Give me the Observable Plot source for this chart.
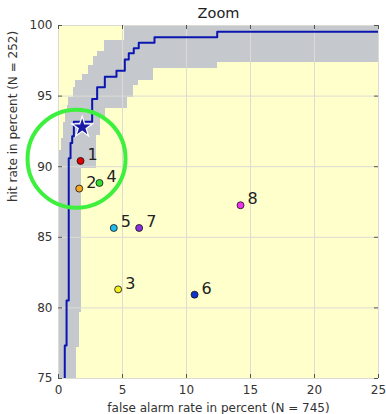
<!DOCTYPE html>
<html><head><meta charset="utf-8">
<script src="https://cdn.jsdelivr.net/npm/d3@7"></script>
<script src="https://cdn.jsdelivr.net/npm/@observablehq/plot@0.6"></script>
<style>
body{margin:0;background:#fff;}
g[aria-label="ring"] circle{filter:drop-shadow(-4px 5px 4px rgba(0,0,0,0.35));}
</style></head><body><div id="chart"></div>
<script>
// ROC step curve (false alarm %, hit %)
const rocFA = [0.49, 0.63, 0.80, 0.94, 1.07, 1.20, 2.63, 3.02, 3.62, 4.53, 5.18, 5.49, 5.88, 6.27, 7.50, 12.40, 25];
const rocHR = [74, 77.34, 80.53, 90.60, 91.67, 92.16, 93.18, 94.79, 95.62, 96.37, 96.79, 97.60, 98.03, 98.38, 98.78, 99.16, 99.56];

// confidence band strips
const bandTop    = [100, 98.97, 98.14, 97.77, 97.36, 97.20, 96.96, 96.56, 96.13, 95.78, 95.64, 94.93, 94.36, 94.15, 93.87, 93.44, 93.16, 92.23, 92.02, 91.17, 89.89, 79.68, 77.20];
const bandBottom = [98.97, 98.14, 97.77, 97.36, 97.20, 96.96, 96.56, 96.13, 95.78, 95.64, 94.93, 94.36, 94.15, 93.87, 93.44, 93.16, 92.23, 92.02, 91.17, 89.89, 79.68, 77.20, 74];
const bandLeft   = [5.16, 3.59, 3.02, 2.71, 2.71, 2.34, 2.34, 1.85, 1.33, 1.33, 1.15, 0.80, 0.68, 0.68, 0.55, 0.55, 0.41, 0.41, 0.23, 0.10, 0.10, 0.10, 0.10];
const bandRight  = [25, 25, 25, 25, 12.40, 12.40, 7.42, 7.42, 6.27, 5.88, 5.88, 5.39, 5.39, 3.67, 3.67, 3.28, 3.28, 2.97, 2.97, 2.97, 1.76, 1.64, 1.41];

// numbered points
const pointLabels = ["1", "2", "3", "4", "5", "6", "7", "8"];
const pointFA = [1.72, 1.62, 4.66, 3.20, 4.32, 10.63, 6.30, 14.22];
const pointHR = [90.41, 88.45, 81.31, 88.85, 85.66, 80.94, 85.66, 87.27];
const pointColors = ["#e00000", "#f5a623", "#f2ee22", "#33dd33", "#22bbee", "#1133cc", "#8833dd", "#ee33ee"];

// star (operating point) and highlight ring
const starFA = [1.85], starHR = [92.80];
const ringFA = [1.41], ringHR = [90.57];

const xTicks = [0, 5, 10, 15, 20, 25];
const yTicks = [75, 80, 85, 90, 95, 100];

const roc = rocFA.map((x, i) => ({x, y: rocHR[i]}));
const band = bandTop.map((t, i) => ({x1: bandLeft[i], x2: bandRight[i], y1: bandBottom[i], y2: t}));
const pts = pointLabels.map((l, i) => ({label: l, x: pointFA[i], y: pointHR[i], c: pointColors[i]}));
const star = starFA.map((x, i) => ({x, y: starHR[i]}));
const ring = ringFA.map((x, i) => ({x, y: ringHR[i]}));

const chart = Plot.plot({
  width: 386, height: 414,
  marginLeft: 58, marginRight: 8, marginTop: 25, marginBottom: 36,
  style: {fontFamily: "DejaVu Sans", fontSize: "12px", color: "#333", background: "white", overflow: "visible"},
  x: {domain: [0, 25], ticks: xTicks, label: null},
  y: {domain: [75, 100], ticks: yTicks, label: null},
  marks: [
    Plot.frame({fill: "#ffffcc", stroke: null}),
    Plot.rect(band, {x1: "x1", x2: "x2", y1: "y1", y2: "y2", fill: "#c5c8cd", clip: true, shapeRendering: "crispEdges"}),
    Plot.gridX(xTicks, {stroke: "#dcdcd4", strokeOpacity: 1}),
    Plot.gridY(yTicks, {stroke: "#dcdcd4", strokeOpacity: 1}),
    Plot.tickX(xTicks, {x: d => d, insetTop: 349, stroke: "#555"}),
    Plot.tickX(xTicks, {x: d => d, insetBottom: 349, stroke: "#555"}),
    Plot.tickY(yTicks, {y: d => d, insetRight: 316, stroke: "#555"}),
    Plot.tickY(yTicks, {y: d => d, insetLeft: 316, stroke: "#555"}),
    Plot.axisX(xTicks, {tickSize: 0, tickPadding: 7, fontSize: 12, label: null}),
    Plot.axisY(yTicks, {tickSize: 0, tickPadding: 6, fontSize: 12, label: null}),
    Plot.line(roc, {x: "x", y: "y", curve: "step-before", stroke: "#0b16b0", strokeWidth: 2, clip: true}),
    Plot.dot(star, {x: "x", y: "y", symbol: "star", r: 6.5, fill: "#1a1aa8", stroke: "white", strokeWidth: 1.2}),
    Plot.dot(pts, {x: "x", y: "y", r: 3.5, fill: "c", stroke: "#111", strokeWidth: 0.8}),
    Plot.text(pts, {x: "x", y: "y", text: "label", dx: 7, dy: -6, textAnchor: "start", fontSize: 16, fill: "#222"}),
    Plot.dot(ring, {x: "x", y: "y", r: 49, stroke: "#3ef03e", strokeWidth: 4, fill: "none", ariaLabel: "ring"}),
    Plot.text(["Zoom"], {frameAnchor: "top", dy: -12, fontSize: 14.5, fill: "#222", lineAnchor: "middle"}),
    Plot.text(["false alarm rate in percent (N = 745)"], {frameAnchor: "bottom", dy: 30, fontSize: 12, fill: "#333", lineAnchor: "middle"}),
    Plot.text(["hit rate in percent (N = 252)"], {frameAnchor: "left", dx: -45, rotate: -90, fontSize: 12, fill: "#333", lineAnchor: "middle"})
  ]
});
document.getElementById("chart").appendChild(chart);
</script></body></html>
